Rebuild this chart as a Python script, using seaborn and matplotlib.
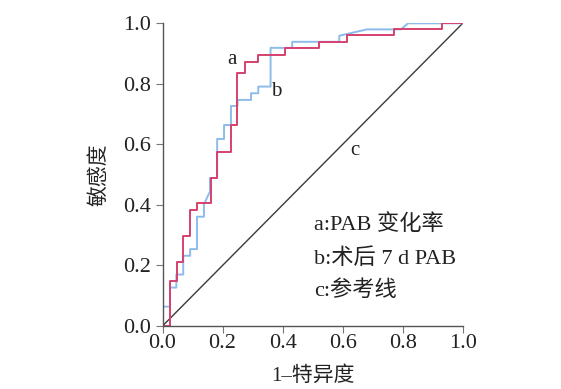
import matplotlib
matplotlib.use("Agg")
import matplotlib.pyplot as plt
import seaborn as sns
import pandas as pd

# ROC curve a: PAB change rate (step vertices, steps-post)
fpr_a = [0, 0.025, 0.047, 0.069, 0.092, 0.115, 0.162, 0.182, 0.227, 0.248,
         0.275, 0.319, 0.408, 0.523, 0.614, 0.772, 0.931, 1.0]
tpr_a = [0, 0.149, 0.212, 0.297, 0.383, 0.405, 0.490, 0.576, 0.664, 0.835,
         0.873, 0.895, 0.917, 0.939, 0.960, 0.981, 1.0, 1.0]

# ROC curve b: postoperative day-7 PAB (polyline vertices)
fpr_b = [0, 0, 0.025, 0.025, 0.046, 0.046, 0.069, 0.069, 0.092, 0.092, 0.115,
         0.115, 0.138, 0.138, 0.158, 0.158, 0.182, 0.182, 0.205, 0.205, 0.228,
         0.228, 0.25, 0.25, 0.295, 0.295, 0.319, 0.319, 0.36, 0.36, 0.432,
         0.432, 0.589, 0.589, 0.681, 0.794, 0.818, 1.0]
tpr_b = [0, 0.064, 0.064, 0.127, 0.127, 0.170, 0.170, 0.232, 0.232, 0.254,
         0.254, 0.361, 0.361, 0.402, 0.444, 0.489, 0.489, 0.618, 0.618, 0.664,
         0.664, 0.727, 0.727, 0.747, 0.747, 0.769, 0.769, 0.791, 0.791, 0.919,
         0.919, 0.939, 0.939, 0.959, 0.980, 0.980, 1.0, 1.0]

# reference line c
fpr_c = [0, 1]
tpr_c = [0, 1]

x_ticks = [0.0, 0.2, 0.4, 0.6, 0.8, 1.0]
y_ticks = [0.0, 0.2, 0.4, 0.6, 0.8, 1.0]
tick_labels = ["0.0", "0.2", "0.4", "0.6", "0.8", "1.0"]
legend_lines = ["a:PAB 变化率", "b:术后 7 d PAB", "c:参考线"]
x_title = "1–特异度"
y_title = "敏感度"

sns.set_style("ticks")
fam = ["Liberation Serif", "Noto Sans CJK SC"]
plt.rcParams["font.family"] = fam

fig = plt.figure(figsize=(5.61, 3.89), dpi=100)
ax = fig.add_axes([0.2897, 0.162, 0.535, 0.778])

df_c = pd.DataFrame({"x": fpr_c, "y": tpr_c})
df_b = pd.DataFrame({"x": fpr_b, "y": tpr_b})
df_a = pd.DataFrame({"x": fpr_a, "y": tpr_a})

sns.lineplot(data=df_c, x="x", y="y", sort=False, estimator=None, ax=ax,
             color="#3a3a3a", linewidth=1.0)
sns.lineplot(data=df_b, x="x", y="y", sort=False, estimator=None, ax=ax,
             color="#8dbbea", linewidth=1.4)
sns.lineplot(data=df_a, x="x", y="y", sort=False, estimator=None, ax=ax,
             color="#d6406e", linewidth=1.4, drawstyle="steps-post")

ax.set_xlim(0, 1)
ax.set_ylim(0, 1)
ax.set_xticks(x_ticks)
ax.set_yticks(y_ticks)
ax.set_xticklabels(tick_labels)
ax.set_yticklabels(tick_labels)
ax.tick_params(axis="both", direction="out", length=5, width=0.8,
               color="#777777", labelsize=16, labelcolor="#222222")
ax.tick_params(axis="x", pad=1)
ax.tick_params(axis="y", pad=3)
for s in ["top", "right"]:
    ax.spines[s].set_visible(False)
for s in ["left", "bottom"]:
    ax.spines[s].set_color("#555555")
    ax.spines[s].set_linewidth(1.0)

ax.set_xlabel(x_title, fontsize=15, family=fam, color="#222222", labelpad=9)
ax.set_ylabel(y_title, fontsize=15, family=fam, color="#222222", labelpad=10)

ax.text(0.232, 0.88, "a", fontsize=15, family=fam, ha="center", va="center", color="#222222")
ax.text(0.378, 0.775, "b", fontsize=15, family=fam, ha="center", va="center", color="#222222")
ax.text(0.64, 0.58, "c", fontsize=15, family=fam, ha="center", va="center", color="#222222")

legend_y = [0.334, 0.221, 0.117]
for t, yy in zip(legend_lines, legend_y):
    ax.text(0.505, yy, t, fontsize=16, family=fam,
            ha="left", va="center", color="#222222")

fig.savefig("out.png", dpi=100)
